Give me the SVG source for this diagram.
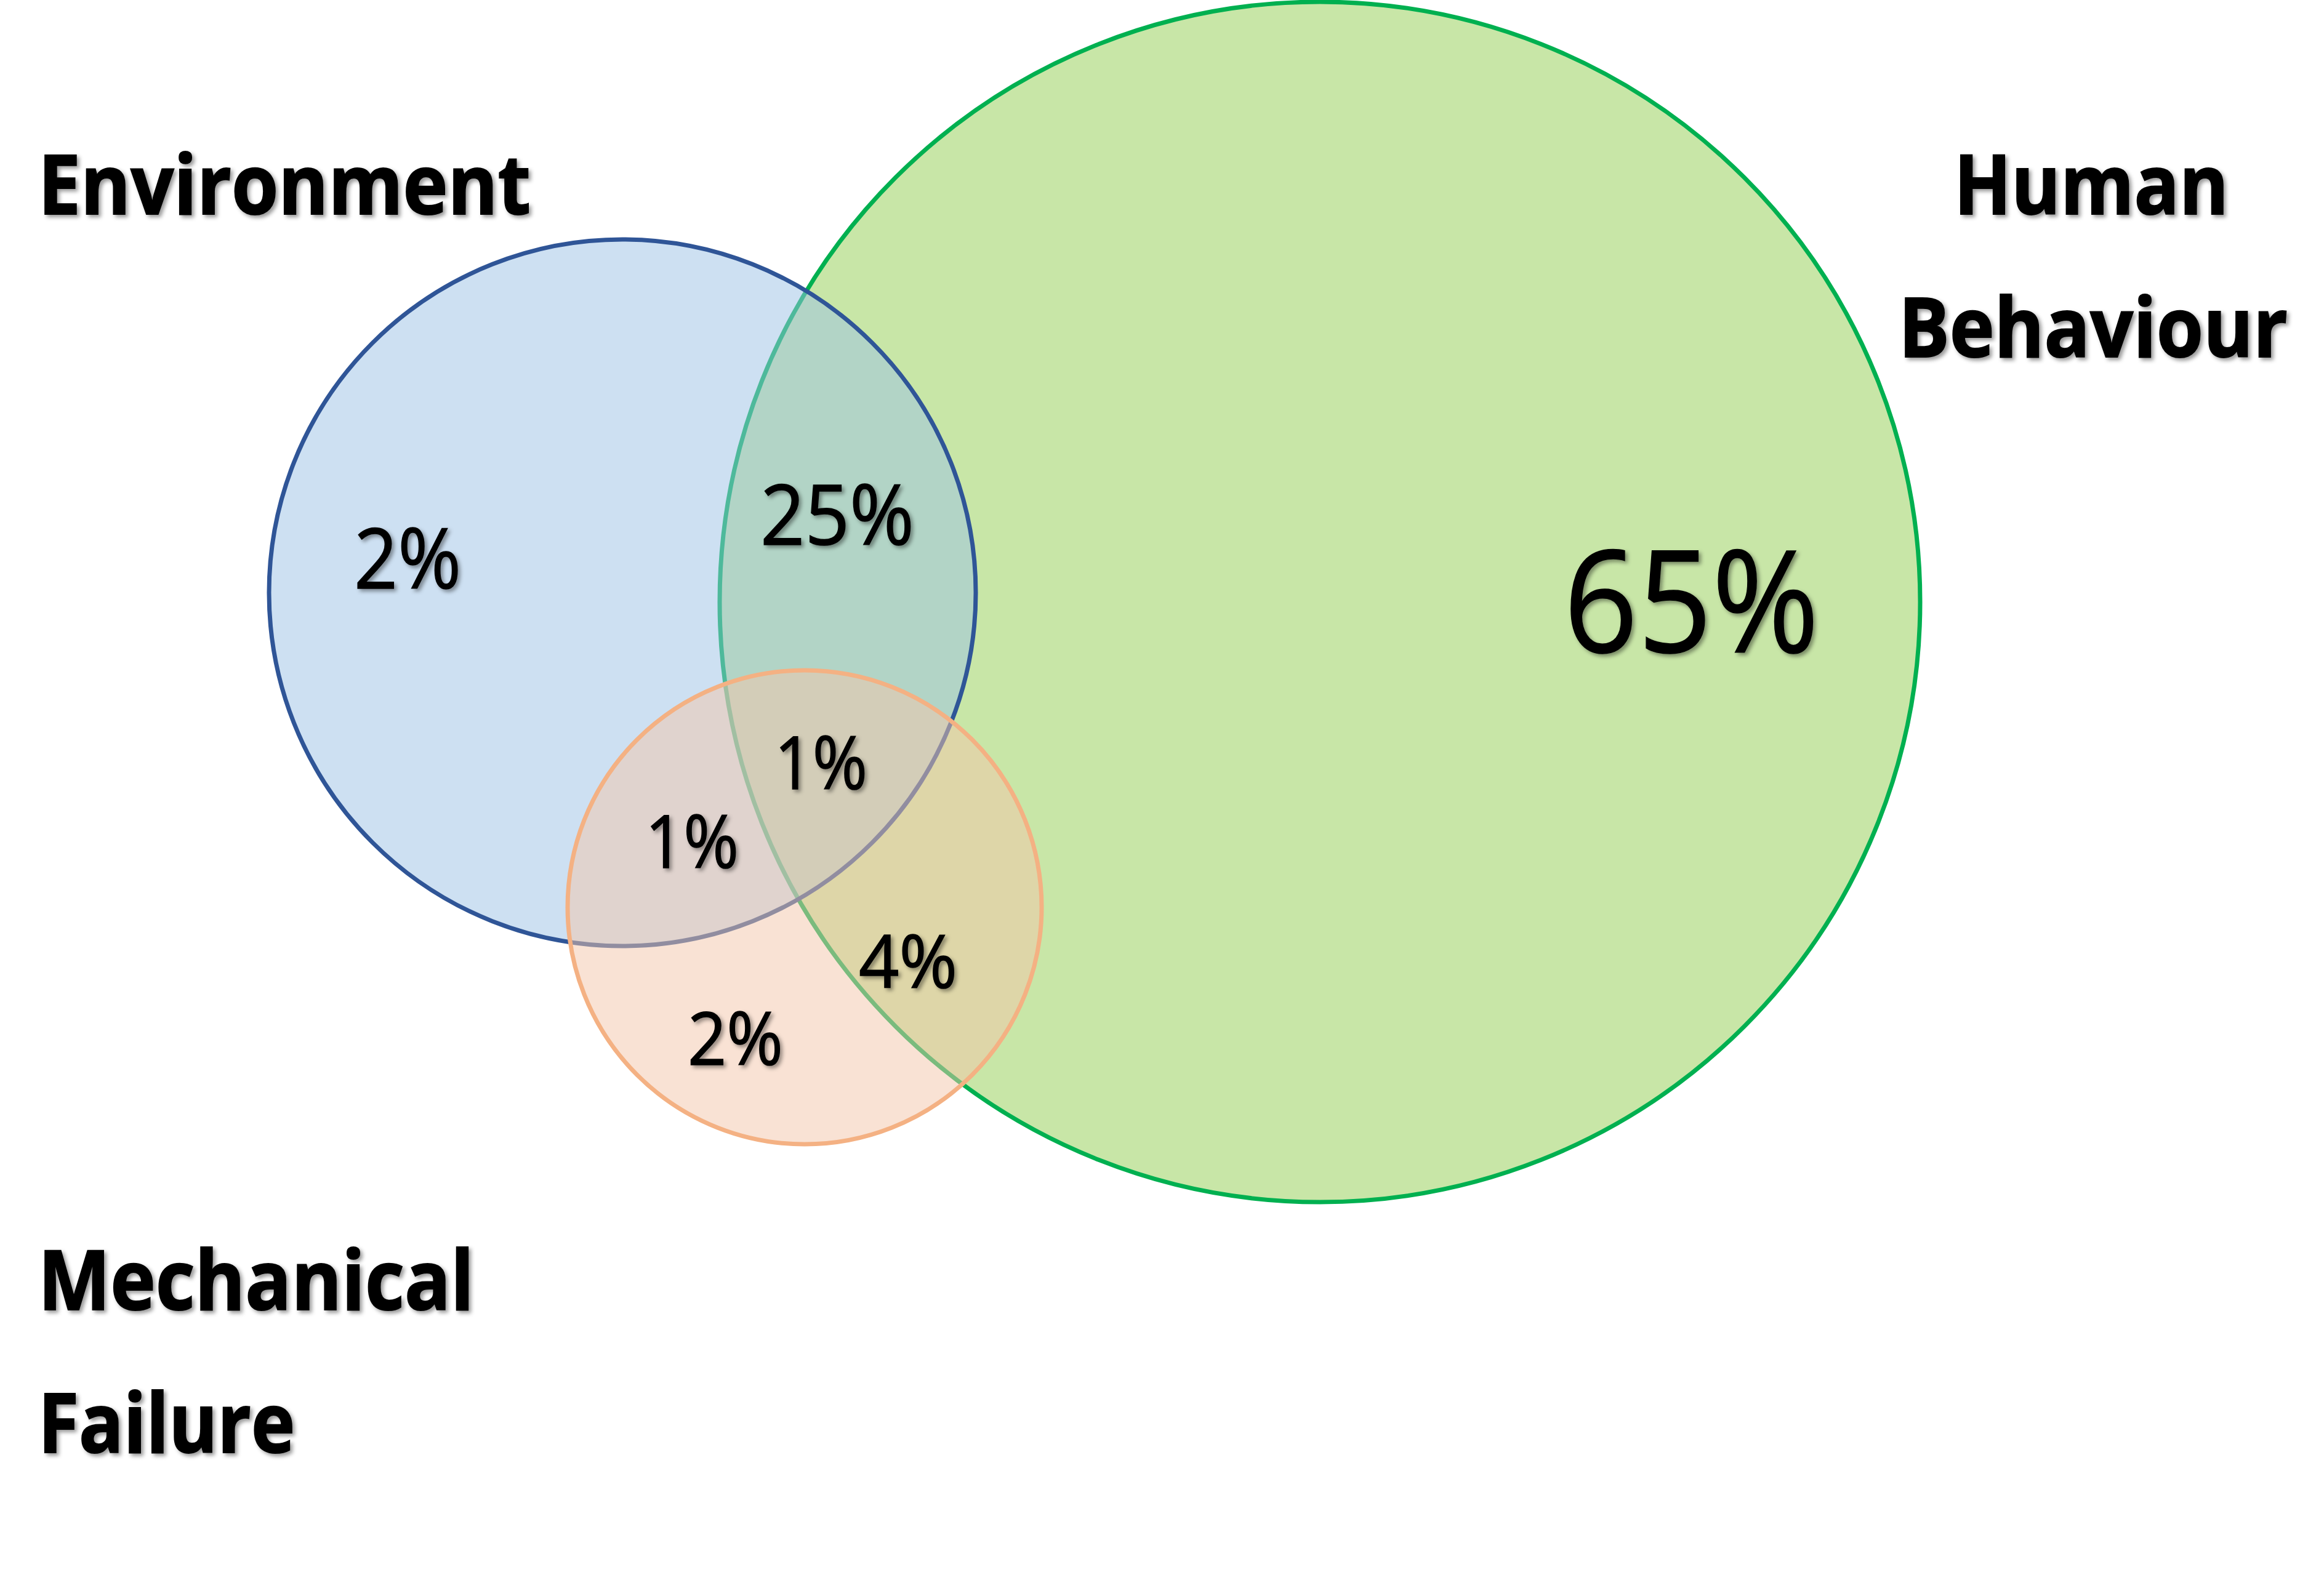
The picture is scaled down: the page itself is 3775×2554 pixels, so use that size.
<svg xmlns="http://www.w3.org/2000/svg" width="3775" height="2554" viewBox="0 0 3775 2554">
  <defs>
    <filter id="shadow" x="-10%" y="-20%" width="130%" height="150%">
      <feDropShadow dx="4" dy="4" stdDeviation="3" flood-color="#000000" flood-opacity="0.4"/>
    </filter>
    <style>
      .lbl { font-family: "Open Sans", "Liberation Sans", sans-serif; font-weight: 700; font-size: 134px; fill: #000000; stroke: #000000; stroke-width: 2; filter: url(#shadow); }
      .pct { font-family: "Open Sans", "Liberation Sans", sans-serif; font-weight: 400; fill: #000000; stroke: #000000; stroke-width: 1.5; filter: url(#shadow); }
      .c-green { fill: #C8E6A7; stroke: #00B050; stroke-width: 7; }
      .c-blue { fill: rgb(155,193,229); fill-opacity: 0.5; stroke: #2F5597; stroke-width: 7; }
      .c-orange { fill: rgb(243,197,169); fill-opacity: 0.5; stroke: #F4B183; stroke-width: 7; }
    </style>
  </defs>
  <rect x="0" y="0" width="3775" height="2554" fill="#FFFFFF"/>

  <g id="human-behaviour">
    <circle class="c-green" cx="2144" cy="978" r="975"/>
    <text class="lbl" x="3174" y="348" textLength="446" lengthAdjust="spacingAndGlyphs">Human</text>
    <text class="lbl" x="3084" y="580" textLength="632" lengthAdjust="spacingAndGlyphs">Behaviour</text>
  </g>

  <g id="environment">
    <circle class="c-blue" cx="1011" cy="963" r="574"/>
    <text class="lbl" x="62" y="348" textLength="800" lengthAdjust="spacingAndGlyphs">Environment</text>
  </g>

  <g id="mechanical-failure">
    <circle class="c-orange" cx="1307" cy="1474" r="385"/>
    <text class="lbl" x="62" y="2128" textLength="708" lengthAdjust="spacingAndGlyphs">Mechanical</text>
    <text class="lbl" x="62" y="2360" textLength="417" lengthAdjust="spacingAndGlyphs">Failure</text>
  </g>

  <g id="region-labels">
    <text class="pct" x="2540" y="1060" font-size="231" textLength="415" lengthAdjust="spacingAndGlyphs">65%</text>
    <text class="pct" x="1235" y="885" font-size="136" textLength="250" lengthAdjust="spacingAndGlyphs">25%</text>
    <text class="pct" x="575" y="956" font-size="136" textLength="174" lengthAdjust="spacingAndGlyphs">2%</text>
    <text class="pct" x="1258" y="1282" font-size="119" textLength="151" lengthAdjust="spacingAndGlyphs">1%</text>
    <text class="pct" x="1048" y="1410" font-size="119" textLength="152" lengthAdjust="spacingAndGlyphs">1%</text>
    <text class="pct" x="1395" y="1605" font-size="119" textLength="160" lengthAdjust="spacingAndGlyphs">4%</text>
    <text class="pct" x="1117" y="1730" font-size="119" textLength="155" lengthAdjust="spacingAndGlyphs">2%</text>
  </g>
</svg>
